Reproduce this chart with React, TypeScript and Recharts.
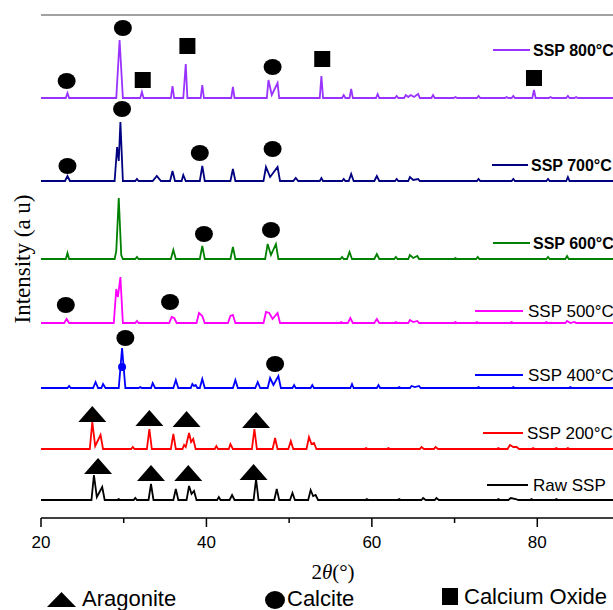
import {
  ComposedChart,
  Line,
  Scatter,
  XAxis,
  YAxis,
  ReferenceLine,
  Customized,
} from "recharts";

// stacked XRD patterns, 2θ vs relative intensity (a.u.), one array per sample
const rawSSP: [number, number][] = [
  [20, 0], [26.1, 0], [26.4, 25], [26.75, 3], [27.4, 13], [27.7, 0], [29.2, 0], [29.4, 1], [29.6, 0],
  [31.2, 0], [31.4, 2], [31.6, 0], [33.0, 0], [33.3, 16], [33.6, 0], [36.0, 0], [36.3, 11], [36.6, 0],
  [37.6, 0], [37.9, 14], [38.2, 6], [38.5, 9], [38.8, 0], [41.3, 0], [41.5, 3], [41.7, 0], [42.8, 0],
  [43.1, 5], [43.4, 0], [45.7, 0], [46.0, 21], [46.3, 0], [48.2, 0], [48.5, 11], [48.8, 0], [50.1, 0],
  [50.4, 7], [50.7, 0], [52.3, 0], [52.6, 10], [52.9, 4], [53.2, 5], [53.5, 0], [59.2, 0], [59.4, 1],
  [59.6, 0], [63.1, 0], [63.3, 1], [63.5, 0], [66.0, 0], [66.2, 2], [66.5, 0], [67.6, 0], [67.8, 2],
  [68.1, 0], [75.1, 0], [75.3, 1], [75.5, 0], [76.5, 0], [76.8, 2], [77.4, 1], [77.7, 0], [79.1, 0],
  [79.3, 1], [79.5, 0], [82.1, 0], [82.3, 1], [82.5, 0], [90, 0],
];

const ssp200: [number, number][] = [
  [20, 0], [25.9, 0], [26.2, 27], [26.55, 3], [27.2, 14], [27.5, 0], [30.9, 0], [31.1, 2], [31.3, 0],
  [32.8, 0], [33.1, 20], [33.4, 0], [35.7, 0], [36.0, 15], [36.3, 0], [37.1, 0], [37.3, 4], [37.5, 2],
  [37.9, 16], [38.15, 7], [38.4, 10], [38.7, 0], [41.0, 0], [41.2, 3], [41.4, 0], [42.7, 0], [42.9, 5],
  [43.2, 0], [45.5, 0], [45.8, 20], [46.1, 0], [48.0, 0], [48.3, 11], [48.6, 0], [49.9, 0], [50.2, 8],
  [50.5, 0], [52.1, 0], [52.4, 12], [52.7, 5], [53.0, 6], [53.3, 0], [59.1, 0], [59.3, 1], [59.5, 0],
  [61.8, 0], [62.0, 1], [62.2, 0], [65.8, 0], [66.0, 2], [66.3, 0], [67.5, 0], [67.7, 2], [68.0, 0],
  [75.1, 0], [75.3, 1], [75.5, 0], [76.4, 0], [76.7, 4], [77.1, 2], [77.5, 2], [77.8, 0], [79.3, 0],
  [79.5, 1], [79.7, 0], [82.1, 0], [82.3, 1], [82.5, 0], [83.5, 0], [83.7, 1], [83.9, 0], [90, 0],
];

const ssp400: [number, number][] = [
  [20, 0], [23.2, 0], [23.4, 2], [23.6, 0], [26.3, 0], [26.6, 6], [26.9, 0], [27.3, 0], [27.5, 4],
  [27.8, 0], [29.4, 0], [29.8, 40], [30.2, 0], [31.8, 0], [32.0, 1], [32.2, 0], [33.3, 0], [33.5, 5],
  [33.8, 0], [36.0, 0], [36.3, 8], [36.6, 0], [38.1, 0], [38.3, 4], [38.5, 2], [38.7, 3], [38.9, 0],
  [39.2, 0], [39.5, 9], [39.8, 0], [43.2, 0], [43.5, 8], [43.8, 0], [45.9, 0], [46.2, 6], [46.5, 0],
  [47.4, 0], [47.7, 10], [48.1, 3], [48.7, 12], [49.0, 0], [50.4, 0], [50.6, 3], [50.8, 0], [52.6, 0],
  [52.8, 3], [53.0, 0], [57.4, 0], [57.6, 4], [57.8, 0], [60.6, 0], [60.8, 3], [61.0, 0], [63.1, 0],
  [63.3, 1], [63.5, 0], [64.6, 0], [64.8, 2], [65.2, 1], [65.7, 2], [65.9, 0], [72.7, 0], [72.9, 1],
  [73.1, 0], [76.9, 0], [77.1, 1], [77.3, 0], [83.8, 0], [84.0, 1], [84.2, 0], [90, 0],
];

const ssp500: [number, number][] = [
  [20, 0], [22.8, 0], [23.1, 4], [23.4, 0], [28.8, 0], [29.1, 34], [29.3, 26], [29.6, 46], [29.9, 0],
  [31.4, 0], [31.6, 2], [31.8, 0], [35.5, 0], [35.8, 6], [36.1, 5], [36.4, 0], [38.8, 0], [39.1, 10],
  [39.5, 7], [39.8, 0], [42.6, 0], [42.9, 7], [43.2, 8], [43.5, 0], [46.9, 0], [47.2, 11], [47.6, 10],
  [48.0, 4], [48.6, 10], [48.9, 0], [56.1, 0], [56.3, 1], [56.5, 0], [57.1, 0], [57.4, 5], [57.7, 0],
  [60.3, 0], [60.6, 4], [60.9, 0], [62.7, 0], [62.9, 1], [63.1, 0], [64.4, 0], [64.6, 3], [65.0, 1],
  [65.5, 2], [65.7, 0], [69.9, 0], [70.1, 1], [70.3, 0], [72.5, 0], [72.7, 1], [72.9, 0], [76.7, 0],
  [76.9, 1], [77.1, 0], [80.9, 0], [81.1, 1], [81.3, 0], [83.4, 0], [83.6, 2], [84.0, 0], [84.5, 1],
  [84.7, 0], [90, 0],
];

const ssp600: [number, number][] = [
  [20, 0], [23.0, 0], [23.2, 6], [23.4, 0], [28.9, 0], [29.1, 8], [29.4, 61], [29.7, 4], [29.9, 0],
  [31.4, 0], [31.6, 2], [31.8, 0], [35.7, 0], [36.0, 9], [36.3, 0], [39.2, 0], [39.5, 13], [39.8, 0],
  [42.9, 0], [43.2, 12], [43.5, 0], [47.1, 0], [47.4, 15], [47.8, 4], [48.4, 15], [48.7, 0], [56.2, 0],
  [56.4, 2], [56.6, 0], [57.0, 0], [57.3, 7], [57.6, 0], [60.3, 0], [60.6, 5], [60.9, 0], [62.7, 0],
  [62.9, 2], [63.1, 0], [64.4, 0], [64.6, 4], [65.0, 1], [65.5, 3], [65.7, 0], [69.9, 0], [70.1, 1],
  [70.3, 0], [72.6, 0], [72.8, 2], [73.0, 0], [81.1, 0], [81.3, 2], [81.5, 0], [83.4, 0], [83.6, 3],
  [83.8, 0], [90, 0],
];

const ssp700: [number, number][] = [
  [20, 0], [22.9, 0], [23.2, 5], [23.5, 0], [28.9, 0], [29.2, 34], [29.4, 20], [29.6, 59], [29.9, 0],
  [31.4, 0], [31.6, 2], [31.8, 0], [33.5, 0], [34.0, 5], [34.5, 0], [35.6, 0], [35.9, 10], [36.2, 0],
  [37.0, 0], [37.2, 6], [37.5, 0], [39.2, 0], [39.5, 15], [39.8, 0], [42.9, 0], [43.2, 12], [43.5, 0],
  [46.9, 0], [47.2, 14], [47.7, 4], [48.6, 14], [48.9, 0], [50.5, 0], [50.8, 3], [51.1, 0], [53.7, 0],
  [53.9, 3], [54.1, 0], [56.4, 0], [56.6, 2], [56.8, 0], [57.2, 0], [57.5, 7], [57.8, 0], [60.3, 0],
  [60.6, 5], [60.9, 0], [62.8, 0], [63.0, 2], [63.2, 0], [64.4, 0], [64.6, 4], [65.0, 1], [65.6, 2],
  [65.8, 0], [72.7, 0], [72.9, 2], [73.1, 0], [76.9, 0], [77.1, 2], [77.3, 0], [81.1, 0], [81.3, 2],
  [81.5, 0], [83.5, 0], [83.7, 4], [83.9, 0], [90, 0],
];

const ssp800: [number, number][] = [
  [20, 0], [23.0, 0], [23.2, 5], [23.4, 0], [29.1, 0], [29.5, 58], [29.9, 0], [32.0, 0], [32.2, 6],
  [32.4, 0], [35.7, 0], [35.9, 12], [36.1, 0], [37.2, 0], [37.5, 34], [37.7, 0], [39.3, 0], [39.5, 13],
  [39.7, 0], [43.0, 0], [43.2, 11], [43.4, 0], [47.3, 0], [47.5, 18], [47.9, 3], [48.6, 15], [48.8, 0],
  [53.7, 0], [53.9, 22], [54.1, 0], [56.4, 0], [56.6, 3], [56.8, 0], [57.3, 0], [57.5, 9], [57.7, 0],
  [60.5, 0], [60.7, 4], [60.9, 0], [62.8, 0], [63.0, 2], [63.2, 0], [63.9, 0], [64.1, 3], [64.4, 1],
  [64.7, 3], [65.1, 1], [65.6, 4], [65.8, 0], [67.2, 0], [67.4, 3], [67.6, 0], [69.9, 0], [70.1, 1],
  [70.3, 0], [72.7, 0], [72.9, 2], [73.1, 0], [76.1, 0], [76.3, 1], [76.5, 0], [76.9, 0], [77.1, 2],
  [77.3, 0], [79.4, 0], [79.6, 8], [79.8, 0], [81.4, 0], [81.6, 1], [81.8, 0], [83.5, 0], [83.7, 2],
  [83.9, 0], [84.5, 0], [84.7, 1], [84.9, 0], [90, 0],
];

const seriesNames = ["Raw SSP", "SSP 200°C", "SSP 400°C", "SSP 500°C", "SSP 600°C", "SSP 700°C", "SSP 800°C"];
const seriesColors = ["#000000", "#ff0000", "#0000ff", "#ff00ff", "#008000", "#000080", "#9933ff"];
const seriesOffsets = [18, 69, 130, 195, 259, 337, 420];
const seriesData = [rawSSP, ssp200, ssp400, ssp500, ssp600, ssp700, ssp800];

// phase markers [2θ, stacked intensity]
const aragoniteMarks: [number, number][] = [
  [26.2, 104], [33.1, 100], [37.6, 99], [46.0, 98],
  [26.9, 52], [33.3, 45], [37.8, 45], [45.7, 46],
];
const calciteMarks: [number, number][] = [
  [23.1, 437], [29.9, 490], [48.0, 451],
  [23.2, 352], [29.8, 409], [39.2, 365], [48.0, 369],
  [39.7, 284], [47.8, 288],
  [23.0, 213], [35.6, 216],
  [30.2, 180], [48.3, 154],
];
const caoMarks: [number, number][] = [[32.3, 438], [37.7, 472], [54.0, 459], [79.6, 440]];
const peakDot: [number, number][] = [[29.8, 151]];

const xTicks = [20, 30, 40, 50, 60, 70, 80, 90];
const xLabels = [20, 40, 60, 80];

const SANS = "Arial, 'Liberation Sans', sans-serif";
const SERIF = "'Times New Roman', 'Liberation Serif', serif";

const toPoints = (arr: [number, number][], off = 0) => arr.map(([x, y]) => ({ x, y: y + off }));

const Triangle = (p: any) => (
  <polygon points={`${p.cx - 14},${p.cy + 8} ${p.cx + 14},${p.cy + 8} ${p.cx},${p.cy - 8}`} fill="#000" />
);
const Circle = (p: any) => <ellipse cx={p.cx} cy={p.cy} rx={9} ry={8} fill="#000" />;
const Square = (p: any) => <rect x={p.cx - 8} y={p.cy - 8} width={16} height={16} fill="#000" />;
const Dot = (p: any) => <circle cx={p.cx} cy={p.cy} r={4} fill="#0000ff" />;

const XTick = (p: any) => {
  const v = p.payload.value;
  const major = xLabels.includes(v);
  return (
    <g>
      <line x1={p.x} x2={p.x} y1={p.y} y2={p.y + (major ? 9 : 5)} stroke="#000" strokeWidth={1.5} />
      {major && (
        <text x={p.x} y={p.y + 30} textAnchor="middle" fontFamily={SANS} fontSize={17} fill="#000">
          {v}
        </text>
      )}
    </g>
  );
};

// inline series labels (right side) and phase legend (bottom)
const labelRows = [
  { y: 50, x1: 493, x2: 530, tx: 533, bold: true },
  { y: 165, x1: 492, x2: 528, tx: 531, bold: true },
  { y: 243, x1: 493, x2: 530, tx: 533, bold: true },
  { y: 311, x1: 475, x2: 523, tx: 528, bold: false },
  { y: 375, x1: 475, x2: 523, tx: 528, bold: false },
  { y: 433, x1: 483, x2: 523, tx: 527, bold: false },
  { y: 485, x1: 487, x2: 528, tx: 533, bold: false },
];

const Decor = () => (
  <g>
    {labelRows.map((r, i) => {
      const s = 6 - i;
      return (
        <g key={i}>
          <line x1={r.x1} x2={r.x2} y1={r.y} y2={r.y} stroke={seriesColors[s]} strokeWidth={2} />
          <text
            x={r.tx}
            y={r.y + 6}
            fontFamily={SANS}
            fontSize={r.bold ? 16 : 17}
            fontWeight={r.bold ? "bold" : "normal"}
            fill="#000"
          >
            {seriesNames[s]}
          </text>
        </g>
      );
    })}
    <text
      transform="translate(30, 259) rotate(-90)"
      textAnchor="middle"
      fontFamily={SERIF}
      fontSize={23}
      fill="#000"
    >
      Intensity (a u)
    </text>
    <text x={333} y={579} textAnchor="middle" fontFamily={SERIF} fontSize={21} fill="#000">
      2<tspan fontStyle="italic">θ</tspan>(°)
    </text>
    <polygon points="47,607 76,607 61.5,592" fill="#000" />
    <text x={82} y={606} fontFamily={SANS} fontSize={22} fill="#000">Aragonite</text>
    <ellipse cx={275} cy={600} rx={10} ry={9} fill="#000" />
    <text x={287} y={606} fontFamily={SANS} fontSize={22} fill="#000">Calcite</text>
    <rect x={442} y={588} width={16} height={17} fill="#000" />
    <text x={464} y={604} fontFamily={SANS} fontSize={22} fill="#000">Calcium Oxide</text>
  </g>
);

export default function App() {
  return (
    <div style={{ position: "absolute", left: 0, top: 0, width: 613, height: 610, overflow: "hidden", background: "#fff" }}>
      <ComposedChart width={640} height={610} margin={{ top: 15, right: 20, bottom: 62, left: 41 }}>
        <XAxis
          type="number"
          dataKey="x"
          domain={[20, 90]}
          ticks={xTicks}
          allowDataOverflow
          height={30}
          tickLine={false}
          tickSize={0}
          tickMargin={0}
          tick={<XTick />}
          axisLine={{ stroke: "#000", strokeWidth: 1.5 }}
        />
        <YAxis
          type="number"
          domain={[0, 503]}
          allowDataOverflow
          width={0}
          tick={false}
          tickLine={false}
          axisLine={{ stroke: "#000", strokeWidth: 1.5 }}
        />
        <ReferenceLine y={503} stroke="#444" strokeWidth={1.2} />
        {seriesData.map((d, i) => (
          <Line
            key={seriesNames[i]}
            data={toPoints(d, seriesOffsets[i])}
            dataKey="y"
            type="linear"
            stroke={seriesColors[i]}
            strokeWidth={1.8}
            dot={false}
            activeDot={false}
            isAnimationActive={false}
          />
        ))}
        <Scatter data={toPoints(aragoniteMarks)} dataKey="y" shape={Triangle} isAnimationActive={false} />
        <Scatter data={toPoints(calciteMarks)} dataKey="y" shape={Circle} isAnimationActive={false} />
        <Scatter data={toPoints(caoMarks)} dataKey="y" shape={Square} isAnimationActive={false} />
        <Scatter data={toPoints(peakDot)} dataKey="y" shape={Dot} isAnimationActive={false} />
        <Customized component={Decor} />
      </ComposedChart>
    </div>
  );
}
